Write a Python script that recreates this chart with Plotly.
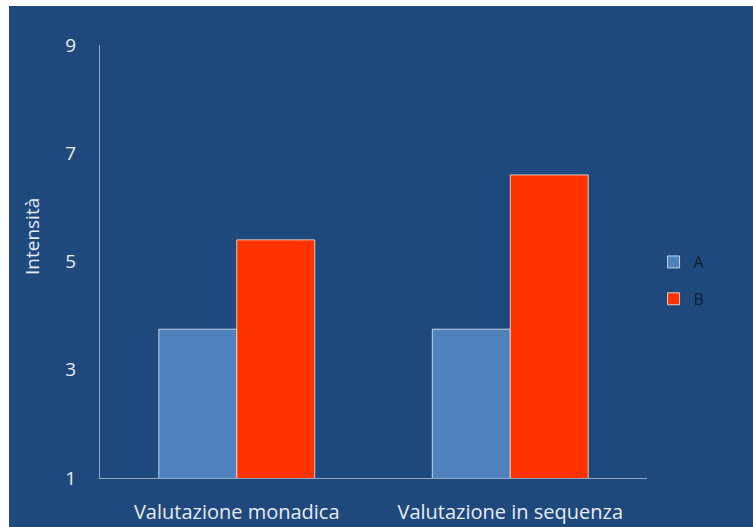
import plotly.graph_objects as go

categories = ["Valutazione monadica", "Valutazione in sequenza"]
series_a = [3.75, 3.75]
series_b = [5.4, 6.6]
y_ticks = [1, 3, 5, 7, 9]

W, H = 753, 527
L, R, T, B = 100, 106, 45, 49
pw, ph = W - L - R, H - T - B

bg = "#1F497D"
axis_col = "#8FA8C8"
text_col = "#E6ECF4"
font_family = "Open Sans, Lato, DejaVu Sans, sans-serif"


def px_x(p):
    return (p - L) / pw


def px_y(p):
    return (T + ph - p) / ph


fig = go.Figure()
fig.add_trace(go.Bar(
    name="A", x=categories, y=series_a,
    marker=dict(color="#4F81BD", line=dict(color="rgba(220,230,242,0.85)", width=1)),
    legendgroup="a",
))
fig.add_trace(go.Bar(
    name="B", x=categories, y=series_b,
    marker=dict(color="#FF3300", line=dict(color="rgba(235,225,215,0.85)", width=1)),
    legendgroup="b",
))

# thin white strips along the top and left edges
fig.add_shape(type="rect", xref="paper", yref="paper", layer="above",
              x0=px_x(-2), x1=px_x(W + 2), y0=px_y(6), y1=px_y(-2),
              fillcolor="white", line=dict(width=0))
fig.add_shape(type="rect", xref="paper", yref="paper", layer="above",
              x0=px_x(-2), x1=px_x(9), y0=px_y(H + 2), y1=px_y(-2),
              fillcolor="white", line=dict(width=0))

# y-axis title
fig.add_annotation(
    text="Intensità", xref="paper", yref="paper",
    x=px_x(32), y=px_y(237), xanchor="center", yanchor="middle",
    textangle=-90, showarrow=False,
    font=dict(size=19, color=text_col),
)

fig.update_layout(
    width=W, height=H,
    margin=dict(l=L, r=R, t=T, b=B, pad=0),
    paper_bgcolor=bg,
    plot_bgcolor=bg,
    barmode="group",
    bargap=0.43,
    bargroupgap=0,
    font=dict(family=font_family, color=text_col),
    showlegend=True,
    legend=dict(
        x=1.012, y=0.456, xanchor="left", yanchor="middle",
        font=dict(size=16, color="#0F1E33"),
        bgcolor="rgba(0,0,0,0)",
        tracegroupgap=13,
        itemwidth=30,
    ),
    xaxis=dict(
        showline=True, linecolor=axis_col, linewidth=1,
        showgrid=False, ticks="", zeroline=False,
        tickfont=dict(size=20, color=text_col),
        ticklabelstandoff=16,
        automargin=False,
    ),
    yaxis=dict(
        range=[1, 9], tickvals=y_ticks,
        showline=True, linecolor=axis_col, linewidth=1,
        showgrid=False, ticks="", zeroline=False,
        tickfont=dict(size=19, color=text_col),
        ticklabelstandoff=19,
        automargin=False,
    ),
)

fig.write_html("out.html")
